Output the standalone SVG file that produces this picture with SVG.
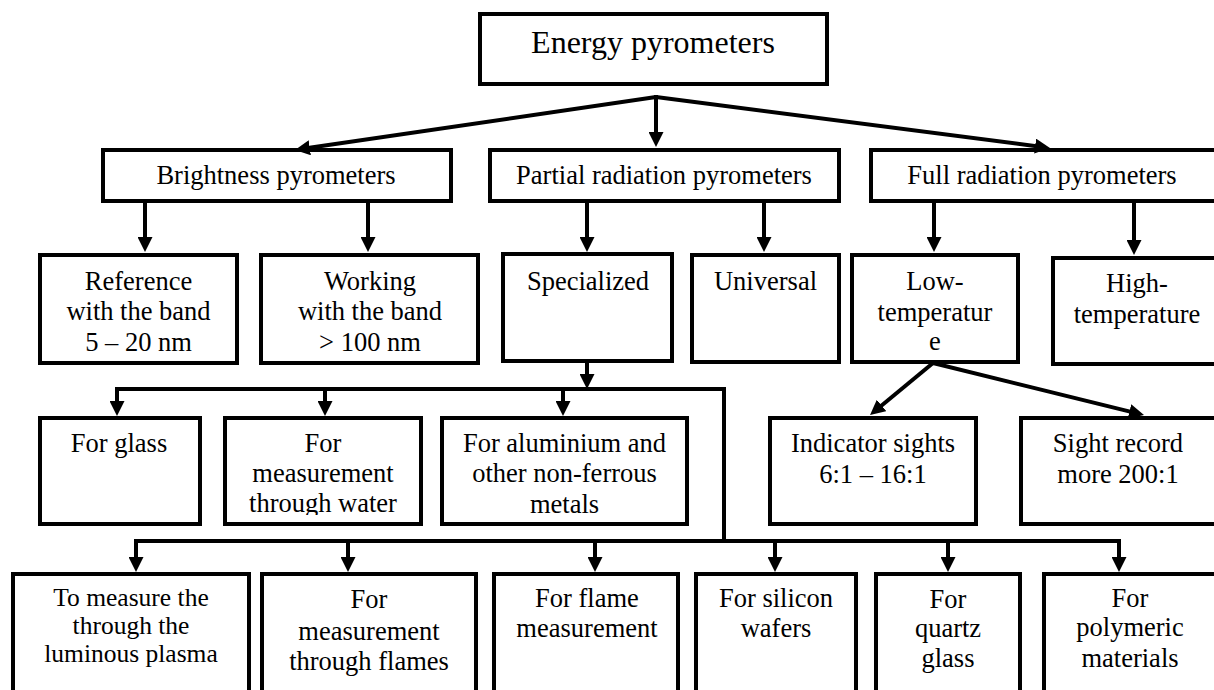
<svg xmlns="http://www.w3.org/2000/svg" width="1214" height="690" viewBox="0 0 1214 690" font-family="'Liberation Serif', 'Times New Roman', 'DejaVu Serif', serif">
<style>
.box{fill:#fff;stroke:#000;stroke-width:4}
.t{font-family:'Liberation Serif','Times New Roman','DejaVu Serif',serif;font-size:26.5px;fill:#000;text-anchor:middle}
.big{font-size:32px}
.sm{font-size:25.5px}
.c{fill:none;stroke:#000;stroke-width:4}
.a{marker-end:url(#ah)}
</style>
<defs>
<marker id="ah" viewBox="0 0 10 10" markerUnits="userSpaceOnUse" markerWidth="15" markerHeight="15" refX="6" refY="5" orient="auto">
<path d="M0,0 L10,5 L0,10 z" fill="#000"/>
</marker>
<clipPath id="clipWater"><rect x="225" y="418" width="196" height="97"/></clipPath>
</defs>
<rect width="1214" height="690" fill="#fff"/>

<g id="n-energy"><rect class="box" x="480" y="14" width="347" height="70"/><text class="t big" x="653" y="53">Energy pyrometers</text></g>

<g id="n-brightness"><rect class="box" x="103" y="150" width="348" height="51"/><text class="t" x="276" y="184">Brightness pyrometers</text></g>
<g id="n-partial"><rect class="box" x="490" y="150" width="349" height="51"/><text class="t" x="664" y="184">Partial radiation pyrometers</text></g>
<g id="n-full"><rect class="box" x="871" y="150" width="360" height="51"/><text class="t" x="1042" y="184">Full radiation pyrometers</text></g>

<g id="n-reference"><rect class="box" x="40" y="255" width="197" height="108"/><text class="t" x="138.5" y="290">Reference</text><text class="t" x="138.5" y="320">with the band</text><text class="t" x="138.5" y="351">5 – 20 nm</text></g>
<g id="n-working"><rect class="box" x="261" y="255" width="217" height="108"/><text class="t" x="370" y="290">Working</text><text class="t" x="370" y="320">with the band</text><text class="t" x="370" y="351">&gt; 100 nm</text></g>
<g id="n-specialized"><rect class="box" x="503" y="254" width="169" height="107"/><text class="t" x="588" y="290">Specialized</text></g>
<g id="n-universal"><rect class="box" x="692" y="255" width="147" height="107"/><text class="t" x="765.5" y="290">Universal</text></g>
<g id="n-lowtemp"><rect class="box" x="852" y="255" width="166" height="107"/><text class="t" x="935" y="290">Low-</text><text class="t" x="935" y="321">temperatur</text><text class="t" x="935" y="350">e</text></g>
<g id="n-hightemp"><rect class="box" x="1053" y="258" width="200" height="106"/><text class="t" x="1137" y="292">High-</text><text class="t" x="1137" y="323">temperature</text></g>

<g id="n-glass"><rect class="box" x="40" y="418" width="160" height="106"/><text class="t" x="119" y="452">For glass</text></g>
<g id="n-water"><rect class="box" x="225" y="418" width="196" height="106"/><g clip-path="url(#clipWater)"><text class="t" x="323" y="452">For</text><text class="t" x="323" y="482">measurement</text><text class="t" x="323" y="512">through water</text></g></g>
<g id="n-aluminium"><rect class="box" x="442" y="418" width="245" height="106"/><text class="t" x="564.5" y="452">For aluminium and</text><text class="t" x="564.5" y="482">other non-ferrous</text><text class="t" x="564.5" y="513">metals</text></g>
<g id="n-indicator"><rect class="box" x="770" y="418" width="206" height="106"/><text class="t" x="873" y="452">Indicator sights</text><text class="t" x="873" y="483">6:1 – 16:1</text></g>
<g id="n-sight"><rect class="box" x="1021" y="418" width="220" height="106"/><text class="t" x="1118" y="452">Sight record</text><text class="t" x="1118" y="483">more 200:1</text></g>

<g id="n-plasma"><rect class="box" x="13" y="574" width="236" height="130"/><text class="t sm" x="131" y="606">To measure the</text><text class="t sm" x="131" y="634">through the</text><text class="t sm" x="131" y="662">luminous plasma</text></g>
<g id="n-flames"><rect class="box" x="262" y="574" width="214" height="130"/><text class="t" x="369" y="608">For</text><text class="t" x="369" y="640">measurement</text><text class="t" x="369" y="670">through flames</text></g>
<g id="n-flame"><rect class="box" x="494" y="574" width="184" height="130"/><text class="t" x="587" y="607">For flame</text><text class="t" x="587" y="637">measurement</text></g>
<g id="n-silicon"><rect class="box" x="696" y="574" width="160" height="130"/><text class="t" x="776" y="607">For silicon</text><text class="t" x="776" y="637">wafers</text></g>
<g id="n-quartz"><rect class="box" x="876" y="574" width="144" height="130"/><text class="t" x="948" y="608">For</text><text class="t" x="948" y="637">quartz</text><text class="t" x="948" y="667">glass</text></g>
<g id="n-polymeric"><rect class="box" x="1044" y="574" width="200" height="130"/><text class="t" x="1130" y="607">For</text><text class="t" x="1130" y="636">polymeric</text><text class="t" x="1130" y="667">materials</text></g>

<g id="connectors">
<line class="c a" x1="656" y1="97" x2="300.9" y2="149.1"/>
<line class="c a" x1="656" y1="95" x2="656" y2="141"/>
<line class="c a" x1="656" y1="97" x2="1044.05" y2="147.23"/>

<line class="c a" x1="145" y1="201" x2="145" y2="246"/>
<line class="c a" x1="368" y1="201" x2="368" y2="246"/>
<line class="c a" x1="587" y1="201" x2="587" y2="246"/>
<line class="c a" x1="764" y1="201" x2="764" y2="246"/>
<line class="c a" x1="934" y1="201" x2="934" y2="246"/>
<line class="c a" x1="1134" y1="201" x2="1134" y2="249"/>

<line class="c a" x1="587" y1="361" x2="587" y2="383"/>
<polyline class="c" points="117,391 117,389 724,389 724,543"/>
<line class="c a" x1="117" y1="389" x2="117" y2="410"/>
<line class="c a" x1="325" y1="389" x2="325" y2="410"/>
<line class="c a" x1="563" y1="389" x2="563" y2="410"/>

<line class="c a" x1="933" y1="363" x2="874.66" y2="411.22"/>
<line class="c a" x1="933" y1="363" x2="1138.17" y2="413.59"/>

<polyline class="c" points="136,566 136,541 1119,541 1119,566"/>
<line class="c a" x1="136" y1="541" x2="136" y2="566"/>
<line class="c a" x1="348" y1="541" x2="348" y2="566"/>
<line class="c a" x1="595" y1="541" x2="595" y2="566"/>
<line class="c a" x1="775" y1="541" x2="775" y2="566"/>
<line class="c a" x1="948" y1="541" x2="948" y2="566"/>
<line class="c a" x1="1119" y1="541" x2="1119" y2="566"/>
</g>
</svg>
